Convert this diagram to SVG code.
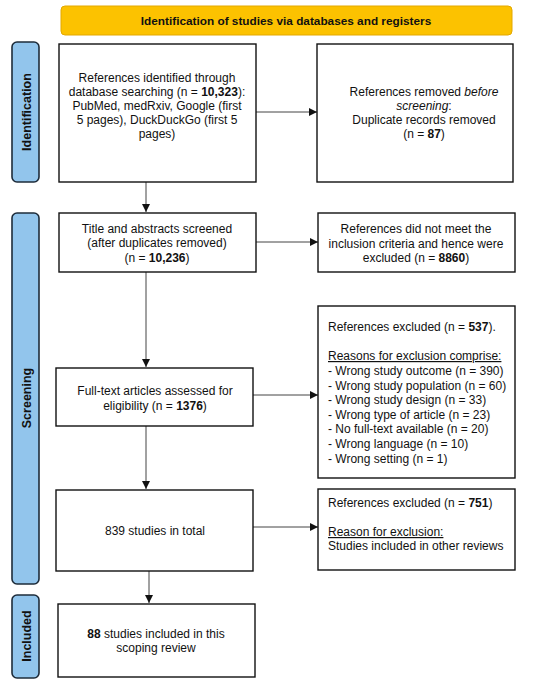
<svg xmlns="http://www.w3.org/2000/svg" width="550" height="685" viewBox="0 0 550 685">
<style>
text{font-family:"Liberation Sans",Arial,sans-serif;font-size:12px;fill:#111}
.box{fill:#fff;stroke:#111;stroke-width:1.4}
.side{fill:#92C5EC;stroke:#1E2C3A;stroke-width:1.6}
.sl{font-weight:bold;font-size:12.5px;text-anchor:middle}
.c{text-anchor:middle}
.b{font-weight:bold}
.line{stroke:#444;stroke-width:1;fill:none}
</style>
<defs>
<marker id="ah" viewBox="0 0 10 10" refX="10" refY="5" markerWidth="8" markerHeight="8" markerUnits="userSpaceOnUse" orient="auto">
<path d="M0,0 L10,5 L0,10 z" fill="#111"/>
</marker>
</defs>
<rect width="550" height="685" fill="#fff"/>
<g id="banner">
<rect x="61" y="6" width="451" height="29" rx="4" fill="#FCC200" stroke="#E3A800" stroke-width="1"/>
<text x="286" y="25" class="c b" style="font-size:11.8px">Identification of studies via databases and registers</text>
</g>
<g id="side-identification">
<rect x="12" y="42" width="27" height="140" rx="5" class="side"/>
<text transform="translate(31,112) rotate(-90)" class="sl">Identification</text>
</g>
<g id="side-screening">
<rect x="12" y="213" width="27" height="371" rx="5" class="side"/>
<text transform="translate(31,398) rotate(-90)" class="sl">Screening</text>
</g>
<g id="side-included">
<rect x="12" y="595" width="27" height="83" rx="5" class="side"/>
<text transform="translate(31,636) rotate(-90)" class="sl">Included</text>
</g>
<g id="connectors">
<line x1="256" y1="112" x2="317" y2="112" class="line" marker-end="url(#ah)"/>
<line x1="146" y1="182" x2="146" y2="212" class="line" marker-end="url(#ah)"/>
<line x1="256" y1="242" x2="318" y2="242" class="line" marker-end="url(#ah)"/>
<line x1="146" y1="272" x2="146" y2="367" class="line" marker-end="url(#ah)"/>
<line x1="253" y1="395" x2="318" y2="395" class="line" marker-end="url(#ah)"/>
<line x1="146" y1="426" x2="146" y2="489" class="line" marker-end="url(#ah)"/>
<line x1="253" y1="527" x2="318" y2="527" class="line" marker-end="url(#ah)"/>
<line x1="149" y1="571" x2="149" y2="603" class="line" marker-end="url(#ah)"/>
</g>
<g id="identified">
<rect x="59" y="44" width="197" height="138" class="box"/>
<text class="c"><tspan x="157" y="82">References identified through</tspan><tspan x="157" y="96">database searching (n = <tspan class="b">10,323</tspan>):</tspan><tspan x="157" y="110">PubMed, medRxiv, Google (first</tspan><tspan x="157" y="124">5 pages), DuckDuckGo (first 5</tspan><tspan x="157" y="138">pages)</tspan></text>
</g>
<g id="removed">
<rect x="317" y="44" width="196" height="138" class="box"/>
<text class="c"><tspan x="424" y="96">References removed <tspan font-style="italic">before</tspan></tspan><tspan x="424" y="110"><tspan font-style="italic">screening</tspan>:</tspan><tspan x="424" y="124">Duplicate records removed</tspan><tspan x="424" y="138">(n = <tspan class="b">87</tspan>)</tspan></text>
</g>
<g id="screened">
<rect x="59" y="213" width="197" height="59" class="box"/>
<text class="c"><tspan x="157" y="233">Title and abstracts screened</tspan><tspan x="157" y="247">(after duplicates removed)</tspan><tspan x="157" y="262">(n = <tspan class="b">10,236</tspan>)</tspan></text>
</g>
<g id="excluded-criteria">
<rect x="318" y="213" width="197" height="59" class="box"/>
<text class="c"><tspan x="416" y="233">References did not meet the</tspan><tspan x="416" y="248">inclusion criteria and hence were</tspan><tspan x="416" y="262">excluded (n = <tspan class="b">8860</tspan>)</tspan></text>
</g>
<g id="fulltext">
<rect x="56" y="368" width="197" height="58" class="box"/>
<text class="c"><tspan x="155" y="395">Full-text articles assessed for</tspan><tspan x="155" y="410">eligibility (n = <tspan class="b">1376</tspan>)</tspan></text>
</g>
<g id="excluded-reasons">
<rect x="318" y="306" width="197" height="172" class="box"/>
<text><tspan x="328" y="331">References excluded (n = <tspan class="b">537</tspan>).</tspan><tspan x="328" y="360" text-decoration="underline">Reasons for exclusion comprise:</tspan><tspan x="328" y="375">- Wrong study outcome (n = 390)</tspan><tspan x="328" y="390">- Wrong study population (n = 60)</tspan><tspan x="328" y="404">- Wrong study design (n = 33)</tspan><tspan x="328" y="419">- Wrong type of article (n = 23)</tspan><tspan x="328" y="433">- No full-text available (n = 20)</tspan><tspan x="328" y="448">- Wrong language (n = 10)</tspan><tspan x="328" y="463">- Wrong setting (n = 1)</tspan></text>
</g>
<g id="total">
<rect x="56" y="490" width="197" height="81" class="box"/>
<text x="155" y="535" class="c">839 studies in total</text>
</g>
<g id="excluded-reviews">
<rect x="318" y="489" width="197" height="81" class="box"/>
<text><tspan x="328" y="507">References excluded (n = <tspan class="b">751</tspan>)</tspan><tspan x="328" y="536" text-decoration="underline">Reason for exclusion:</tspan><tspan x="328" y="550">Studies included in other reviews</tspan></text>
</g>
<g id="included">
<rect x="58" y="604" width="197" height="73" class="box"/>
<text class="c"><tspan x="156" y="638"><tspan class="b">88</tspan> studies included in this</tspan><tspan x="156" y="652">scoping review</tspan></text>
</g>
</svg>
